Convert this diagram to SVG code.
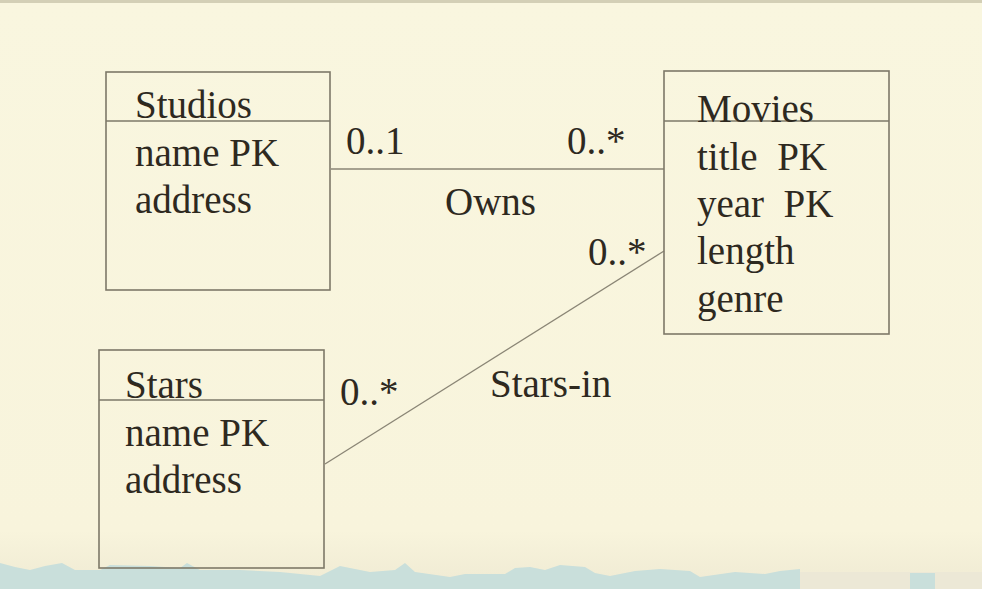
<svg xmlns="http://www.w3.org/2000/svg" width="982" height="589" viewBox="0 0 982 589">
<style>
.box{fill:none;stroke:#7d7868;stroke-width:1.6}
.conn{fill:none;stroke:#8a8575;stroke-width:1.3}
text{font-family:"Liberation Serif","Times New Roman",serif;font-size:39px;fill:#2e291f;white-space:pre}
</style>
<defs>
<linearGradient id="bg" x1="0" y1="0" x2="0" y2="1">
<stop offset="0" stop-color="#f9f6df"/>
<stop offset="0.9" stop-color="#f8f4dc"/>
<stop offset="1" stop-color="#efead3"/>
</linearGradient>
</defs>
<rect width="982" height="589" fill="url(#bg)"/>
<rect width="982" height="3" fill="#d3cfb6"/>
<path d="M0 563 L15 567 L30 570 L45 566 L62 563 L75 570 L100 570 L110 565 L150 566 L180 568 L187 563 L200 570 L240 570 L280 572 L320 576 L340 566 L370 572 L395 570 L405 563 L415 572 L450 577 L465 574 L505 574 L515 568 L530 567 L545 570 L560 565 L585 567 L595 573 L610 576 L635 571 L660 569 L690 571 L700 577 L735 572 L765 574 L780 571 L800 569 L800 589 L0 589 Z" fill="#c9dfdb"/>
<rect x="800" y="572" width="182" height="17" fill="#ece8d6"/>
<rect x="910" y="573" width="25" height="16" fill="#c9dfdb"/>
<g id="connectors">
<line class="conn" x1="331" y1="169" x2="664" y2="169"/>
<line class="conn" x1="325" y1="464" x2="664" y2="251"/>
<text x="346" y="154">0..1</text>
<text x="567" y="154">0..*</text>
<text x="445" y="215">Owns</text>
<text x="588" y="265">0..*</text>
<text x="340" y="405">0..*</text>
<text x="490" y="397">Stars-in</text>
</g>
<g id="studios">
<rect class="box" x="106" y="72" width="224" height="218"/>
<line class="box" x1="106" y1="121" x2="330" y2="121"/>
<text x="135" y="118">Studios</text>
<text x="135" y="166">name PK</text>
<text x="135" y="213">address</text>
</g>
<g id="movies">
<rect class="box" x="664" y="71" width="225" height="263"/>
<line class="box" x1="664" y1="121" x2="889" y2="121"/>
<text x="697" y="122">Movies</text>
<text x="697" y="170" xml:space="preserve">title  PK</text>
<text x="697" y="217" xml:space="preserve">year  PK</text>
<text x="697" y="264">length</text>
<text x="697" y="312">genre</text>
</g>
<g id="stars">
<rect class="box" x="99" y="350" width="225" height="218"/>
<line class="box" x1="99" y1="400" x2="324" y2="400"/>
<text x="125" y="398">Stars</text>
<text x="125" y="446">name PK</text>
<text x="125" y="493">address</text>
</g>
</svg>
